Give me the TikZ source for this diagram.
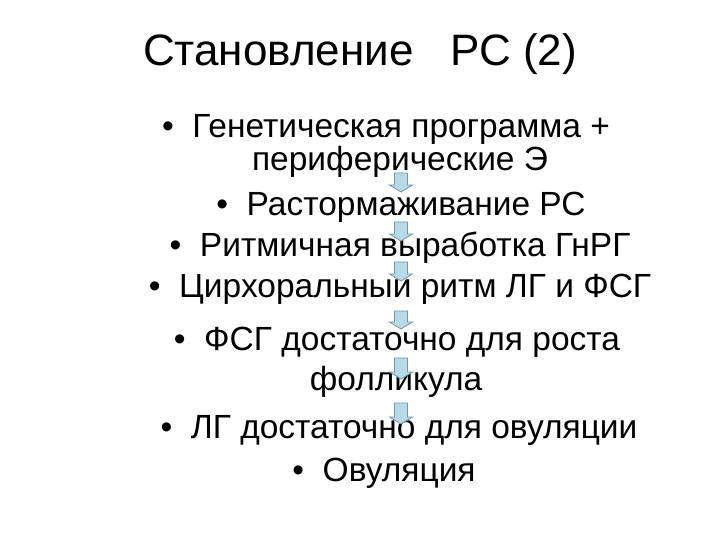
\documentclass[tikz,border=0pt]{standalone}
\usepackage{fontspec}
\setmainfont{Liberation Sans}
\definecolor{arrfill}{RGB}{183,218,232}
\definecolor{arrline}{RGB}{120,150,165}
\begin{document}
\begin{tikzpicture}[x=1pt,y=-1pt,
  titletext/.style={anchor=base,inner sep=0pt,font=\fontsize{44}{52}\selectfont},
  bodytext/.style={anchor=base,inner sep=0pt,font=\fontsize{33.5}{40}\selectfont},
  blkarrow/.pic={
    \filldraw[fill=arrfill,draw=arrline,line width=0.8pt,line join=miter]
      (-6.5,0) -- (6.5,0) -- (6.5,#1-7) -- (11.5,#1-7) -- (0,#1) -- (-11.5,#1-7) -- (-6.5,#1-7) -- cycle;
  }]
\useasboundingbox[fill=white] (0,0) rectangle (720,540);
\node[titletext] (title) at (360,66) {Становление\ \ \ РС (2)};
\node[bodytext] (l1) at (386,138) {•\ \ Генетическая программа +};
\node[bodytext] (l2) at (400,171) {периферические Э};
\node[bodytext] (l3) at (401,215) {•\ \ Растормаживание РС};
\node[bodytext] (l4) at (400,256) {•\ \ Ритмичная выработка ГнРГ};
\node[bodytext] (l5) at (400,297) {•\ \ Цирхоральный ритм ЛГ и ФСГ};
\node[bodytext] (l6) at (397,350) {•\ \ ФСГ достаточно для роста};
\node[bodytext] (l7) at (396,390) {фолликула};
\node[bodytext] (l8) at (399,438) {•\ \ ЛГ достаточно для овуляции};
\node[bodytext] (l9) at (384,481) {•\ \ Овуляция};
\pic (a1) at (401,173) {blkarrow=19};
\pic (a2) at (401,222) {blkarrow=19};
\pic (a3) at (401,262) {blkarrow=19};
\pic (a4) at (401,311) {blkarrow=18};
\pic (a5) at (401,358) {blkarrow=21};
\pic (a6) at (401,403) {blkarrow=21};
\end{tikzpicture}
\end{document}
